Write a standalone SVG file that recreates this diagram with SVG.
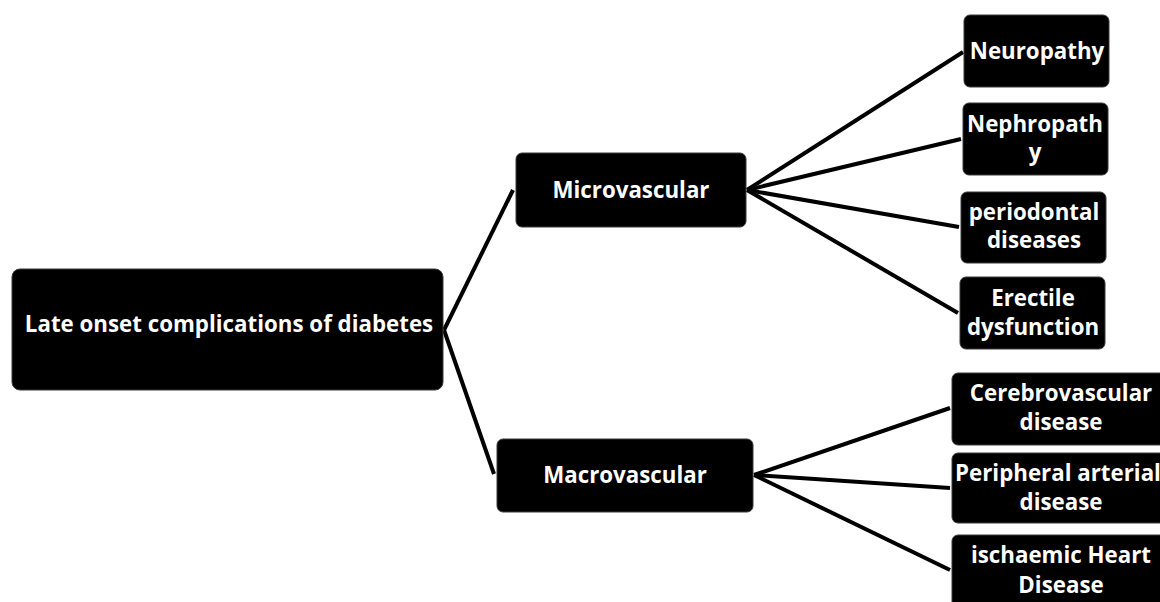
<svg xmlns="http://www.w3.org/2000/svg" width="1160" height="602" viewBox="0 0 1160 602">
<style>
.box{fill:#000;stroke:#3a3a3a;stroke-width:1}
.t{fill:#fff;font-family:"Open Sans","Liberation Sans",sans-serif;font-weight:700;font-size:22.3px;text-anchor:middle}
.c{stroke:#000;stroke-width:4;fill:none;stroke-linecap:butt}
</style>
<rect width="1160" height="602" fill="#fff"/>
<g id="connectors">
<line class="c" x1="444" y1="330" x2="513" y2="190"/>
<line class="c" x1="444" y1="330" x2="494" y2="474"/>
<line class="c" x1="747" y1="190" x2="963" y2="52"/>
<line class="c" x1="747" y1="190" x2="961" y2="139"/>
<line class="c" x1="747" y1="190" x2="959" y2="227"/>
<line class="c" x1="747" y1="190" x2="958" y2="313"/>
<line class="c" x1="754" y1="475" x2="950" y2="408"/>
<line class="c" x1="754" y1="475" x2="950" y2="488"/>
<line class="c" x1="754" y1="475" x2="950" y2="570"/>
</g>
<g id="root"><rect class="box" x="12" y="269" width="431" height="121" rx="8"/><text class="t" x="229" y="332">Late onset complications of diabetes</text></g>
<g id="micro"><rect class="box" x="516" y="153" width="230" height="74" rx="6"/><text class="t" x="631" y="198">Microvascular</text></g>
<g id="macro"><rect class="box" x="497" y="439" width="256" height="73" rx="6"/><text class="t" x="625" y="483">Macrovascular</text></g>
<g id="neuropathy"><rect class="box" x="964" y="15" width="145" height="72" rx="6"/><text class="t" x="1037" y="59">Neuropathy</text></g>
<g id="nephropathy"><rect class="box" x="963" y="103" width="145" height="72" rx="6"/><text class="t" x="1035" y="132">Nephropath</text><text class="t" x="1035" y="160">y</text></g>
<g id="periodontal"><rect class="box" x="961" y="192" width="145" height="71" rx="6"/><text class="t" x="1034" y="220">periodontal</text><text class="t" x="1034" y="248">diseases</text></g>
<g id="erectile"><rect class="box" x="960" y="277" width="145" height="72" rx="6"/><text class="t" x="1033" y="306">Erectile</text><text class="t" x="1033" y="335">dysfunction</text></g>
<g id="cerebro"><rect class="box" x="952" y="373" width="220" height="72" rx="6"/><text class="t" x="1061" y="401">Cerebrovascular</text><text class="t" x="1061" y="430">disease</text></g>
<g id="peripheral"><rect class="box" x="952" y="453" width="220" height="70" rx="6"/><text class="t" x="1058" y="481">Peripheral arterial</text><text class="t" x="1061" y="510">disease</text></g>
<g id="ischaemic"><rect class="box" x="952" y="535" width="220" height="80" rx="6"/><text class="t" x="1061" y="563">ischaemic Heart</text><text class="t" x="1061" y="593">Disease</text></g>
</svg>
